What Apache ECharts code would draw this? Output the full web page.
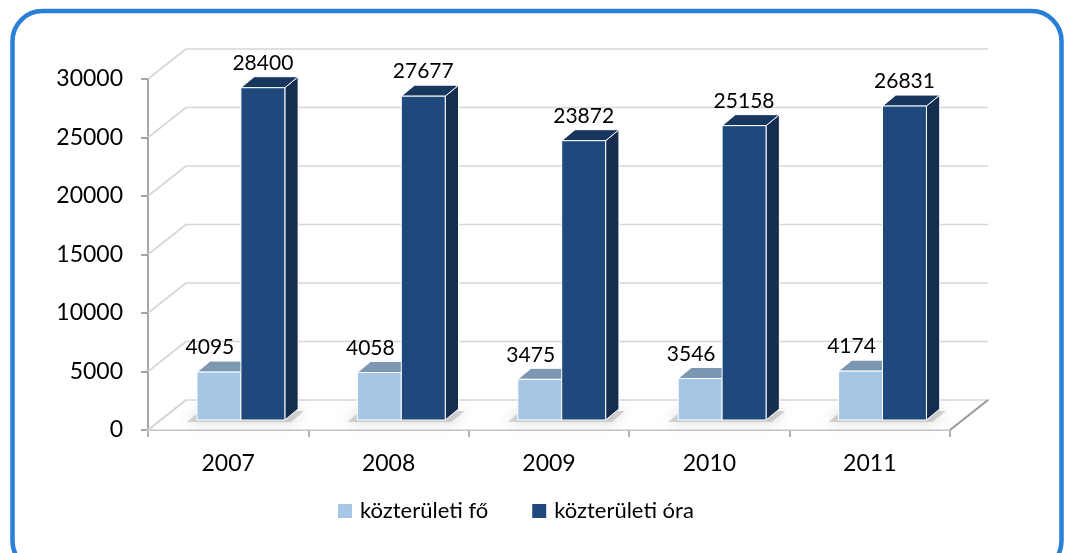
<!DOCTYPE html>
<html>
<head>
<meta charset="utf-8">
<script src="https://cdn.jsdelivr.net/npm/echarts@6/dist/echarts.min.js"></script>
<style>
  html, body { margin: 0; padding: 0; background: #fff; }
  #chart { width: 1066px; height: 553px; }
</style>
</head>
<body>
<div id="chart"></div>
<script>
// adatok
const categories = ['2007', '2008', '2009', '2010', '2011'];
const foValues = [4095, 4058, 3475, 3546, 4174];
const oraValues = [28400, 27677, 23872, 25158, 26831];
const yTicks = [0, 5000, 10000, 15000, 20000, 25000, 30000];

// 3D hatás: a padló mélysége és az oszlopok helye benne
const DX = 38, DY = -30;        // padló / hátfal eltolás
const FX = 12.7, FY = -10;      // oszlop elülső lapja
const SX = 13.3, SY = -11;      // oszlop mélysége
const BAR_RATIO = 0.274;        // oszlop szélessége a kategóriához képest

const chart = echarts.init(document.getElementById('chart'));

// rácsvonalak a hátfalon és az oldalfalon, plusz padló
const gridRender = (params, api) => {
  const cs = params.coordSys;
  const v = api.value(1);
  const yf = api.coord([0, v])[1];
  const xl = cs.x, xr = cs.x + cs.width;
  const children = [];
  const gridStyle = { stroke: '#d6d6d6', lineWidth: 1.6, fill: null };
  if (v === 0) {
    children.push({
      type: 'polygon',
      shape: { points: [[xl, yf], [xr, yf], [xr + DX, yf + DY], [xl + DX, yf + DY]] },
      style: { fill: '#ffffff', stroke: '#d6d6d6', lineWidth: 1.6 }
    });
    children.push({
      type: 'polyline',
      shape: { points: [[xr, yf], [xr + DX, yf + DY]] },
      style: { stroke: '#9a9a9a', lineWidth: 2, fill: null }
    });
  } else {
    children.push({
      type: 'line',
      shape: { x1: xl + DX, y1: yf + DY, x2: xr + DX, y2: yf + DY },
      style: gridStyle
    });
  }
  children.push({
    type: 'line',
    shape: { x1: xl, y1: yf, x2: xl + DX, y2: yf + DY },
    style: gridStyle
  });
  return { type: 'group', children: children };
};

// puha árnyék a padlón
const shadowRender = (params, api) => {
  const i = api.value(0);
  const base = api.coord([i, 0]);
  const bw = api.size([1, 0])[0] * BAR_RATIO;
  const x0 = base[0] - bw + FX, x1 = base[0] + bw + FX;
  const yb = base[1] + FY;
  return {
    type: 'polygon',
    shape: { points: [[x0 - 10, yb + 2], [x1 + 6, yb + 2], [x1 + SX + 6, yb + SY + 2], [x0 + SX - 10, yb + SY + 2]] },
    style: { fill: 'rgba(165,165,165,0.45)', shadowBlur: 14, shadowColor: 'rgba(90,90,90,0.6)' }
  };
};

const barRender = (side, front, top, sideCol, labelDx, fontSize) => (params, api) => {
  const i = api.value(0), val = api.value(1);
  const base = api.coord([i, 0]);
  const tp = api.coord([i, val]);
  const bw = api.size([1, 0])[0] * BAR_RATIO;
  const x0 = base[0] + side * bw + FX, x1 = x0 + bw;
  const yb = base[1] + FY, yt = tp[1] + FY;
  const edge = { stroke: '#ffffff', lineWidth: 1 };
  return {
    type: 'group',
    children: [
      {
        type: 'polygon',
        shape: { points: [[x1, yt], [x1 + SX, yt + SY], [x1 + SX, yb + SY], [x1, yb]] },
        style: Object.assign({ fill: sideCol }, edge)
      },
      {
        type: 'polygon',
        shape: { points: [[x0, yt], [x1, yt], [x1 + SX, yt + SY], [x0 + SX, yt + SY]] },
        style: Object.assign({ fill: top }, edge)
      },
      {
        type: 'rect',
        shape: { x: x0, y: yt, width: bw, height: yb - yt },
        style: Object.assign({ fill: front }, edge)
      },
      {
        type: 'text',
        style: {
          text: String(val),
          x: (x0 + x1) / 2 + labelDx,
          y: yt + SY - 3,
          align: 'center',
          verticalAlign: 'bottom',
          fill: '#000',
          font: fontSize + 'px Lato'
        }
      }
    ]
  };
};

chart.setOption({
  animation: false,
  graphic: [{
    type: 'rect',
    shape: { x: 12.5, y: 11, width: 1049, height: 560, r: 30 },
    style: { fill: null, stroke: '#2a7fd9', lineWidth: 4.5 },
    z: 100
  }],
  grid: { left: 148, right: 116, top: 79, bottom: 123 },
  legend: {
    data: ['közterületi fő', 'közterületi óra'],
    left: 333,
    top: 495,
    icon: 'rect',
    itemWidth: 14,
    itemHeight: 14,
    itemGap: 44,
    textStyle: { fontFamily: 'Lato', fontSize: 22, color: '#000', padding: [0, 0, 0, 3] }
  },
  xAxis: {
    type: 'category',
    data: categories,
    axisLine: { lineStyle: { color: '#9a9a9a', width: 2 } },
    axisTick: { show: true, length: 7, lineStyle: { color: '#9a9a9a', width: 1.5 } },
    axisLabel: { color: '#000', fontFamily: 'Lato', fontSize: 23, margin: 22 }
  },
  yAxis: {
    type: 'value',
    min: 0,
    max: 30000,
    interval: 5000,
    axisLine: { show: true, lineStyle: { color: '#888888', width: 1.5 } },
    axisTick: { show: true, length: 7, lineStyle: { color: '#888888', width: 1.5 } },
    splitLine: { show: false },
    axisLabel: {
      color: '#000', fontFamily: 'Lato', fontSize: 23, margin: 25,
      formatter: v => String(v)
    }
  },
  series: [
    {
      type: 'custom',
      name: 'grid3d',
      renderItem: gridRender,
      data: yTicks.map(v => [0, v]),
      encode: { x: 0, y: 1 },
      silent: true,
      z: 1
    },
    {
      type: 'custom',
      name: 'shadow',
      renderItem: shadowRender,
      data: categories.map((c, i) => [i, 0]),
      encode: { x: 0, y: 1 },
      silent: true,
      z: 2
    },
    {
      type: 'custom',
      name: 'közterületi fő',
      itemStyle: { color: '#a5c6e4' },
      renderItem: barRender(-1, '#a5c6e4', '#7c97b2', '#6f8aa6', -9, 21),
      data: categories.map((c, i) => [i, foValues[i]]),
      encode: { x: 0, y: 1 },
      z: 3
    },
    {
      type: 'custom',
      name: 'közterületi óra',
      itemStyle: { color: '#1f497d' },
      renderItem: barRender(0, '#1f497d', '#17375e', '#152e50', 0, 21),
      data: categories.map((c, i) => [i, oraValues[i]]),
      encode: { x: 0, y: 1 },
      z: 4
    }
  ]
});
</script>
</body>
</html>
